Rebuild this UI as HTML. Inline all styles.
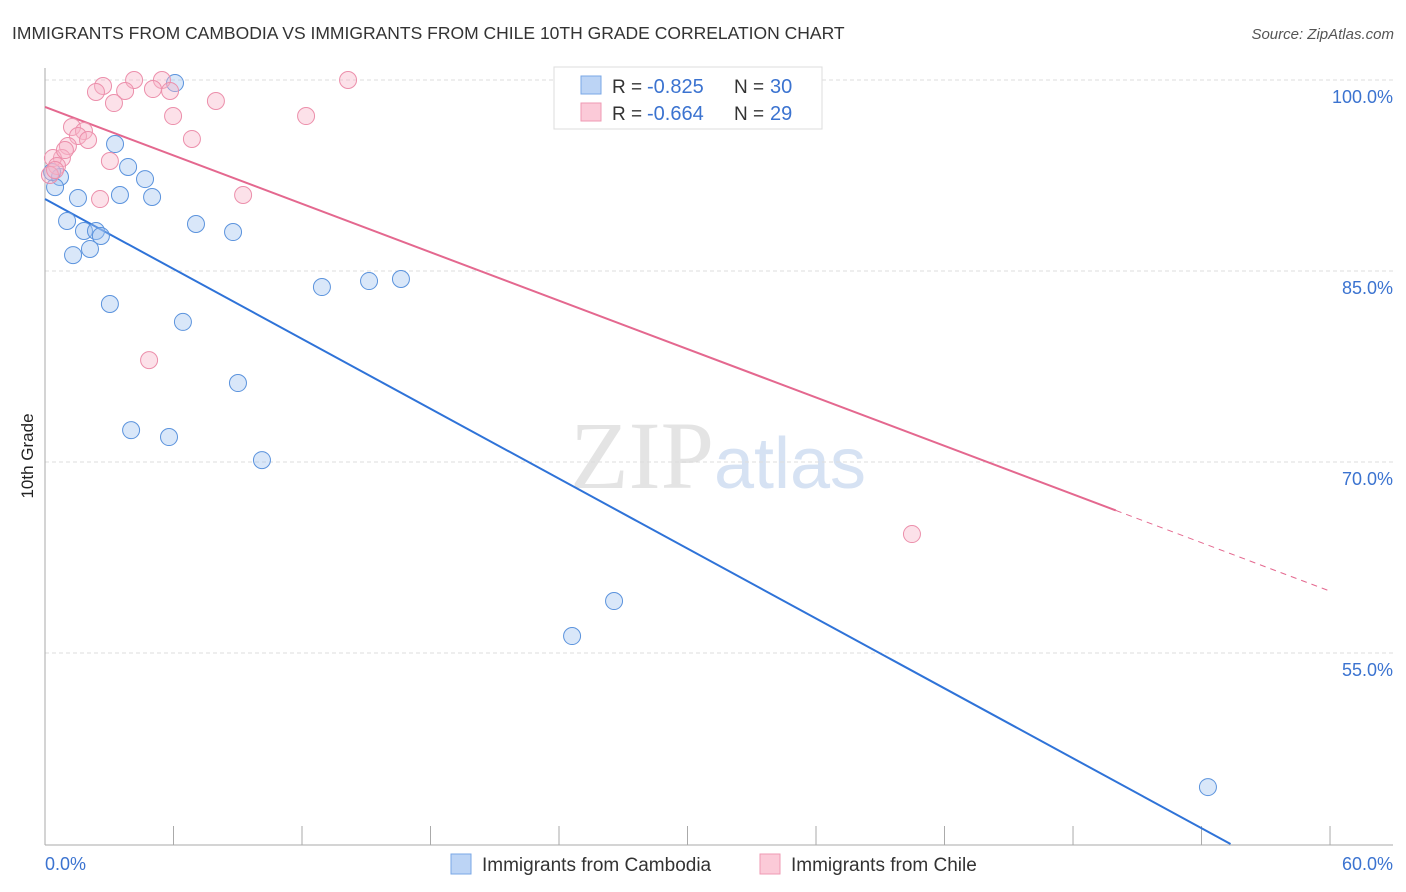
<!DOCTYPE html>
<html><head><meta charset="utf-8"><style>
body{margin:0;background:#fff;font-family:"Liberation Sans",sans-serif;}
</style></head><body>
<svg id="chart" width="1406" height="892" xmlns="http://www.w3.org/2000/svg" style="display:block">
<text x="12" y="39" font-size="17.5" fill="#333">IMMIGRANTS FROM CAMBODIA VS IMMIGRANTS FROM CHILE 10TH GRADE CORRELATION CHART</text>
<text x="1394" y="39" font-size="15" fill="#555" text-anchor="end" font-style="italic">Source: ZipAtlas.com</text>
<text x="718" y="488" font-size="96" text-anchor="middle" font-family="Liberation Serif,serif" fill="#e4e4e4">ZIP<tspan font-family="Liberation Sans,sans-serif" font-size="72" fill="#d6e2f3">atlas</tspan></text>
<g id="grid"></g><g id="axes"></g><g id="lines"></g><g id="pts"></g>
<text transform="translate(33,456) rotate(-90)" font-size="17" fill="#222" text-anchor="middle">10th Grade</text>
<g>
<rect x="554" y="67" width="268" height="62" fill="#fff" stroke="#ddd"/>
<rect x="581" y="76" width="20" height="18" fill="#bcd4f5" stroke="#7aa7e6"/>
<rect x="581" y="103" width="20" height="18" fill="#fbcad8" stroke="#ef9ab3"/>
<text x="612" y="93" font-size="19" fill="#333">R =</text>
<text x="647" y="93" font-size="20" fill="#3b73d0">-0.825</text>
<text x="734" y="93" font-size="19" fill="#333">N =</text>
<text x="770" y="93" font-size="20" fill="#3b73d0">30</text>
<text x="612" y="120" font-size="19" fill="#333">R =</text>
<text x="647" y="120" font-size="20" fill="#3b73d0">-0.664</text>
<text x="734" y="120" font-size="19" fill="#333">N =</text>
<text x="770" y="120" font-size="20" fill="#3b73d0">29</text>
</g>
<g>
<rect x="451" y="854" width="20" height="20" fill="#bcd4f5" stroke="#7aa7e6"/>
<text x="482" y="871" font-size="19" fill="#333">Immigrants from Cambodia</text>
<rect x="760" y="854" width="20" height="20" fill="#fbcad8" stroke="#ef9ab3"/>
<text x="791" y="871" font-size="19" fill="#333">Immigrants from Chile</text>
</g>
</svg>
<script>
const yTicks=[100,85,70,55];
const yTickLabels=["100.0%","85.0%","70.0%","55.0%"];
const xTickLabels=["0.0%","60.0%"];
const cambodiaX=[6.07,3.27,3.88,0.70,4.67,0.47,1.54,3.50,5.00,1.03,7.05,8.78,1.82,2.38,2.61,2.10,1.31,12.93,15.13,16.62,3.03,6.44,9.01,4.02,5.79,10.13,26.57,24.61,54.30,0.33];
const cambodiaY=[99.76,94.97,93.17,92.38,92.22,91.59,90.73,90.97,90.81,88.93,88.69,88.06,88.14,88.14,87.75,86.73,86.25,83.74,84.21,84.37,82.41,81.0,76.2,72.5,71.96,70.15,59.08,56.33,44.47,92.77];
const chileX=[14.15,4.16,5.46,2.71,2.38,3.74,5.04,5.84,3.22,7.98,5.98,12.19,1.26,1.82,1.54,6.86,2.01,1.07,0.79,0.37,3.03,0.56,0.23,2.57,9.25,4.86,40.48,0.47,0.93];
const chileY=[100,100,100,99.53,99.06,99.14,99.29,99.14,98.19,98.35,97.17,97.17,96.31,95.99,95.6,95.37,95.29,94.82,93.87,93.87,93.64,93.25,92.54,90.65,90.97,78.0,64.34,92.93,94.5];
const cambodiaTrend=[90.65,-0.915];
const chileTrend=[97.88,-0.6337];
const chileSolidEnd=50;
const NS="http://www.w3.org/2000/svg";
const X=v=>45+v*21.417, Y=v=>80+(100-v)*12.733;
function mk(t,a,p){const e=document.createElementNS(NS,t);for(const k in a)e.setAttribute(k,a[k]);document.getElementById(p).appendChild(e);return e;}
yTicks.forEach((t,i)=>{
 const g=mk('line',{x1:45,x2:1393,y1:Y(t),y2:Y(t),stroke:'#ddd','stroke-dasharray':'4,3'},'grid');
 
 
 const l=mk('text',{x:1393,y:Y(t)+23,'font-size':18,fill:'#3b73d0','text-anchor':'end'},'grid');
 
 
 l.textContent=yTickLabels[i];
});
const ax=mk('line',{x1:45,x2:45,y1:68,y2:845,stroke:'#aaa'},'axes');


const bx=mk('line',{x1:45,x2:1393,y1:845,y2:845,stroke:'#aaa'},'axes');


for(let i=0;i<=10;i++){const t=mk('line',{x1:X(i*6),x2:X(i*6),y1:826,y2:845,stroke:'#aaa'},'axes');
 
 }
[[0,'start',45],[60,'end',1393]].forEach((d,i)=>{const t=mk('text',{x:d[2],y:870,'font-size':18,fill:'#3b73d0','text-anchor':d[1]},'axes');
 
 
 t.textContent=xTickLabels[i];});
const bEnd=(40-cambodiaTrend[0])/cambodiaTrend[1];
const bl=mk('line',{x1:X(0),y1:Y(cambodiaTrend[0]),x2:X(bEnd),y2:Y(40),stroke:'#2f73d8','stroke-width':2},'lines');


const pl=mk('line',{x1:X(0),y1:Y(chileTrend[0]),x2:X(chileSolidEnd),y2:Y(chileTrend[0]+chileTrend[1]*chileSolidEnd),stroke:'#e4688f','stroke-width':2},'lines');


const pd=mk('line',{x1:X(chileSolidEnd),y1:Y(chileTrend[0]+chileTrend[1]*chileSolidEnd),x2:X(60),y2:Y(chileTrend[0]+chileTrend[1]*60),stroke:'#e4688f','stroke-width':1,'stroke-dasharray':'6,5'},'lines');


cambodiaX.forEach((x,i)=>{const c=mk('circle',{cx:X(x),cy:Y(cambodiaY[i]),r:8.5,fill:'rgba(160,196,240,0.4)',stroke:'#5b93dd','stroke-width':1},'pts');
 
 });
chileX.forEach((x,i)=>{const c=mk('circle',{cx:X(x),cy:Y(chileY[i]),r:8.5,fill:'rgba(248,180,200,0.4)',stroke:'#ec8fab','stroke-width':1},'pts');
 
 });
</script>
</body></html>
